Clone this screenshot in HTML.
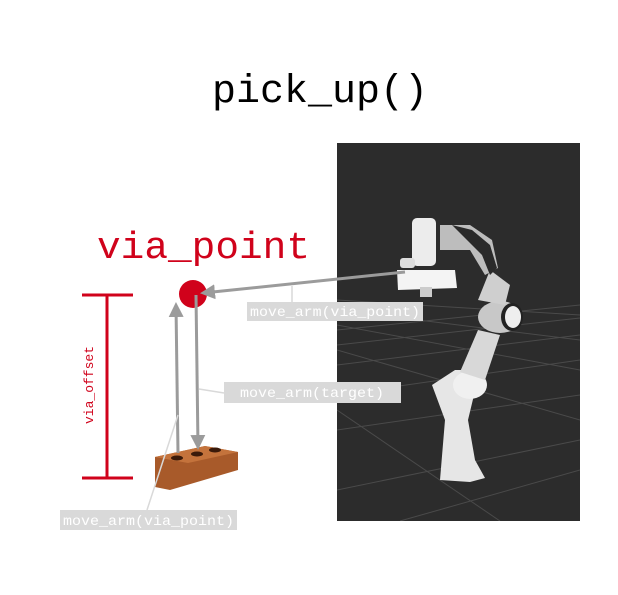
<!DOCTYPE html>
<html><head><meta charset="utf-8"><style>
html,body{margin:0;padding:0;background:#fff;}
svg{display:block;}
text{font-family:"Liberation Mono",monospace;}
</style></head><body>
<svg width="618" height="595" viewBox="0 0 618 595">
<defs>
<marker id="ah" markerWidth="5" markerHeight="5" refX="4" refY="2.5" orient="auto" markerUnits="strokeWidth"><path d="M0,0 L5,2.5 L0,5 Z" fill="#9b9b9b"/></marker>
<clipPath id="pc"><rect x="337" y="143" width="243" height="378"/></clipPath>
</defs>
<text x="320" y="102" font-size="40" text-anchor="middle" fill="#000">pick_up()</text>

<g>
<rect x="337" y="143" width="243" height="378" fill="#2c2c2c"/>
<g clip-path="url(#pc)" stroke="#4a4a4a" stroke-width="1" fill="none">
<line x1="337" y1="330" x2="580" y2="305"/><line x1="337" y1="345" x2="580" y2="318"/>
<line x1="337" y1="365" x2="580" y2="335"/><line x1="337" y1="395" x2="580" y2="360"/>
<line x1="337" y1="430" x2="580" y2="395"/><line x1="337" y1="490" x2="580" y2="440"/>
<line x1="337" y1="310" x2="580" y2="340"/><line x1="337" y1="325" x2="580" y2="370"/>
<line x1="337" y1="350" x2="580" y2="420"/><line x1="337" y1="410" x2="500" y2="521"/>
<line x1="400" y1="521" x2="580" y2="470"/><line x1="337" y1="300" x2="580" y2="315"/>
</g>
<g>
<path d="M440,480 L445,420 L432,385 L455,370 L480,370 L468,420 L475,460 L485,478 L470,482 Z" fill="#e6e6e6"/>
<ellipse cx="470" cy="385" rx="17" ry="14" fill="#f0f0f0"/>
<path d="M460,372 L478,330 L500,335 L485,380 Z" fill="#d8d8d8"/>
<ellipse cx="500" cy="317" rx="22" ry="16" fill="#c8c8c8"/>
<ellipse cx="512" cy="317" rx="11" ry="14" fill="#222"/>
<ellipse cx="513" cy="317" rx="8" ry="11" fill="#eee"/>
<path d="M478,300 L490,270 L510,285 L505,305 Z" fill="#cfcfcf"/>
<path d="M440,225 L470,225 L492,240 L498,268 L485,275 L470,250 L440,250 Z" fill="#bdbdbd"/>
<path d="M452,225 L472,230 L490,245 L497,268 L490,275 L482,255 L465,238 Z" fill="#2a2a2a"/>
<rect x="412" y="218" width="24" height="48" rx="5" fill="#ececec"/>
<path d="M397,270 L455,270 L457,288 L398,290 Z" fill="#f4f4f4"/>
<rect x="400" y="258" width="15" height="10" rx="3" fill="#ddd"/>
<rect x="420" y="287" width="12" height="10" fill="#ccc"/>
</g>
</g>

<text x="97" y="258" font-size="38" textLength="213" lengthAdjust="spacingAndGlyphs" fill="#d0021b">via_point</text>
<circle cx="193" cy="294" r="14" fill="#d0021b"/>

<g stroke="#d0021b" stroke-width="3">
<line x1="107" y1="295" x2="107" y2="478"/>
<line x1="82" y1="295" x2="133" y2="295"/>
<line x1="82" y1="478" x2="133" y2="478"/>
</g>
<text x="0" y="0" font-size="13" fill="#d0021b" text-anchor="middle" transform="translate(93,385) rotate(-90)">via_offset</text>

<g>
<path d="M155,457 L205,446 L238,452 L238,470 L170,490 L155,487 Z" fill="#a85a2a"/>
<path d="M155,457 L205,446 L238,452 L188,463 Z" fill="#c4733c"/>
<ellipse cx="177" cy="458" rx="6" ry="2.5" fill="#3a1a0a"/>
<ellipse cx="197" cy="454" rx="6" ry="2.5" fill="#3a1a0a"/>
<ellipse cx="215" cy="450" rx="6" ry="2.5" fill="#3a1a0a"/>
</g>

<g stroke="#9b9b9b" stroke-width="3" fill="none">
<line x1="178" y1="453" x2="176" y2="305" marker-end="url(#ah)"/>
<line x1="196" y1="295" x2="198" y2="447" marker-end="url(#ah)"/>
<line x1="405" y1="272" x2="203" y2="293" marker-end="url(#ah)"/>
</g>

<g stroke="#d9d9d9" stroke-width="1.5">
<line x1="292" y1="286" x2="292" y2="302"/>
<line x1="199" y1="389" x2="224" y2="393"/>
<line x1="178" y1="415" x2="147" y2="510"/>
</g>

<g>
<rect x="247" y="302" width="176" height="19" fill="#d9d9d9"/>
<text x="250" y="316" font-size="14" textLength="170" lengthAdjust="spacingAndGlyphs" fill="#fff">move_arm(via_point)</text>
</g>
<g>
<rect x="224" y="382" width="177" height="21" fill="#d9d9d9"/>
<text x="240" y="397" font-size="14" textLength="144" lengthAdjust="spacingAndGlyphs" fill="#fff">move_arm(target)</text>
</g>
<g>
<rect x="60" y="510" width="177" height="20" fill="#d9d9d9"/>
<text x="63" y="525" font-size="14" textLength="171" lengthAdjust="spacingAndGlyphs" fill="#fff">move_arm(via_point)</text>
</g>
</svg>
</body></html>
